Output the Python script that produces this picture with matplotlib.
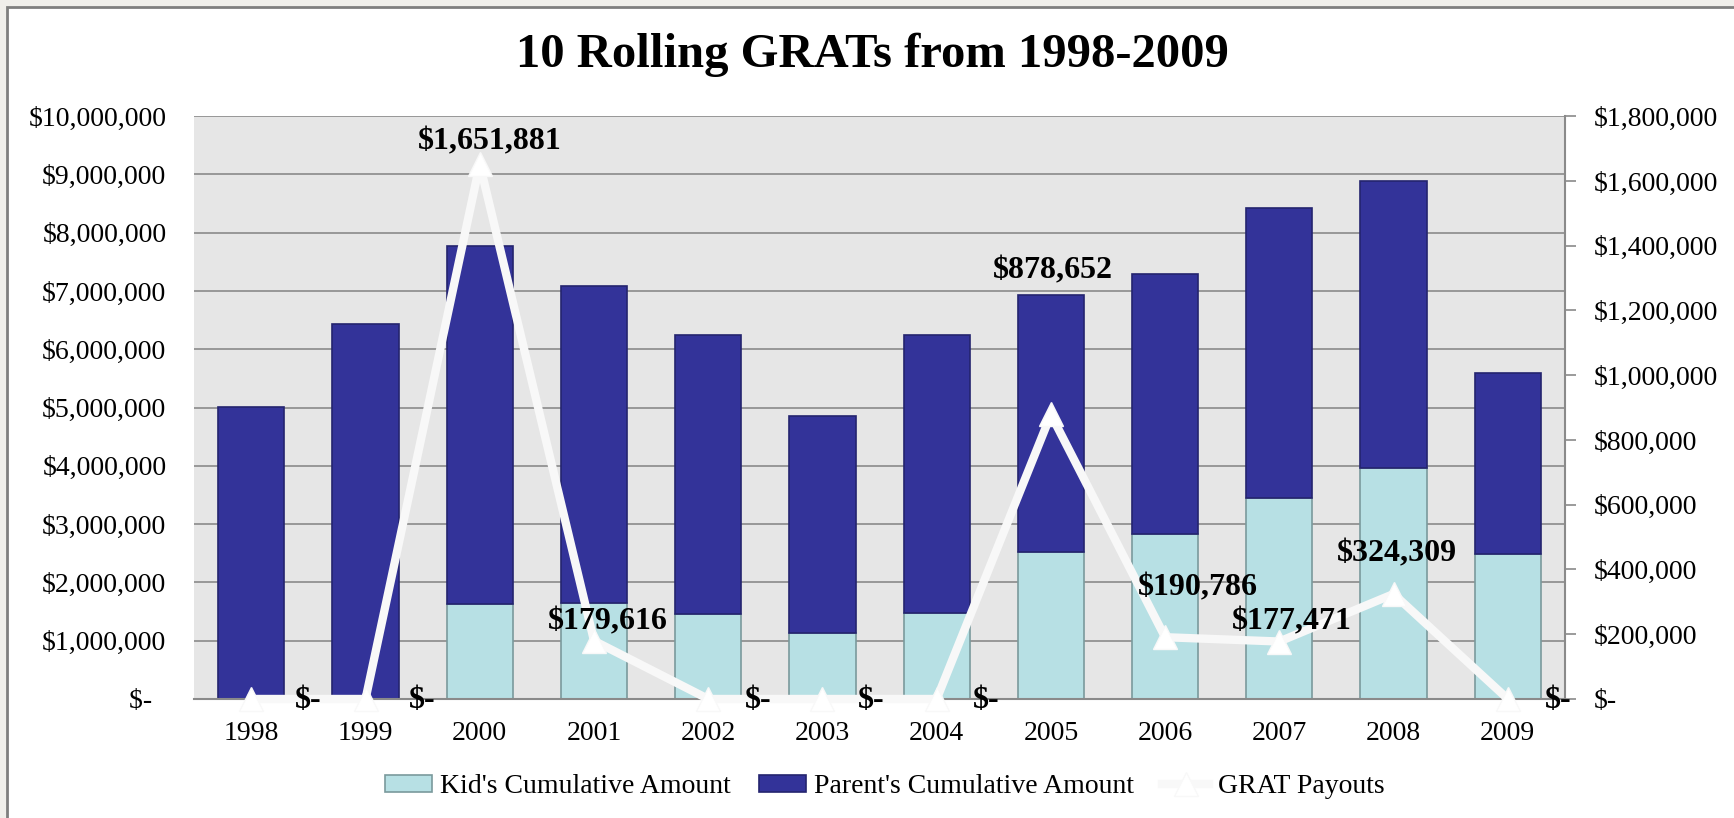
import numpy as np
import matplotlib
matplotlib.use("Agg")
import matplotlib.pyplot as plt
from matplotlib.patches import Rectangle
from matplotlib.ticker import FuncFormatter, MultipleLocator

plt.rcParams['font.family'] = ['Liberation Serif', 'DejaVu Serif']

# data
years = ['1998', '1999', '2000', '2001', '2002', '2003',
         '2004', '2005', '2006', '2007', '2008', '2009']
kid_amount = [0, 0, 1630000, 1650000, 1460000, 1140000,
              1480000, 2520000, 2830000, 3450000, 3970000, 2490000]
parent_total = [5010000, 6430000, 7780000, 7080000, 6240000, 4860000,
                6240000, 6930000, 7290000, 8430000, 8880000, 5600000]
grat_payouts = [0, 0, 1651881, 179616, 0, 0, 0, 878652, 190786, 177471, 324309, 0]
payout_labels = ['$-', '$-', '$1,651,881', '$179,616', '$-', '$-', '$-',
                 '$878,652', '$190,786', '$177,471', '$324,309', '$-']
# label offsets (pixels) relative to each payout point
label_offsets = [(57, -2), (57, -2), (10, 22), (14, 19), (50, -2), (49, -2),
                 (50, -2), (2, 144), (33, 49), (12, 20), (3, 40), (50, -2)]

kid_color = '#b7e0e4'
parent_color = '#333399'

def money(v, pos=None):
    if v == 0:
        return '$-\u2007'
    return '${:,.0f}'.format(v)

def money_r(v, pos=None):
    if v == 0:
        return '$-'
    return '${:,.0f}'.format(v)

fig = plt.figure(figsize=(17.34, 8.18), dpi=100)
fig.patch.set_facecolor('#f0efeb')
fig.patches.append(Rectangle((7 / 1734, -0.1), 1.2, 1 - 7 / 818 + 0.1,
                             transform=fig.transFigure, facecolor='white',
                             edgecolor='#7f7f7f', lw=2, zorder=-10))

ax = fig.add_axes([0.112, 0.1455, 0.7905, 0.7125])
ax.set_facecolor('#e6e6e6')
x = np.arange(len(years))
parent_part = np.array(parent_total) - np.array(kid_amount)

ax.bar(x, kid_amount, width=0.58, color=kid_color, edgecolor='#7a9a9c',
       lw=1.2, label="Kid's Cumulative Amount", zorder=2)
ax.bar(x, parent_part, bottom=kid_amount, width=0.58, color=parent_color,
       edgecolor='#24246e', lw=1.2, label="Parent's Cumulative Amount", zorder=2)

ax.set_xlim(-0.5, len(years) - 0.5)
ax.set_ylim(0, 10000000)
ax.yaxis.set_major_locator(MultipleLocator(1000000))
ax.yaxis.set_major_formatter(FuncFormatter(money))
ax.grid(axis='y', color='#8a8a8a', lw=1.2, zorder=0)
ax.set_axisbelow(True)
ax.set_xticks(x)
ax.set_xticklabels(years)
ax.tick_params(axis='y', length=0, pad=20, labelsize=20)
ax.tick_params(axis='x', length=0, pad=16, labelsize=20)
for s in ['top', 'left', 'right']:
    ax.spines[s].set_visible(False)
ax.spines['bottom'].set_color('#8a8a8a')
ax.spines['bottom'].set_linewidth(1.5)

ax2 = ax.twinx()
ax2.set_ylim(0, 1800000)
ax2.yaxis.set_major_locator(MultipleLocator(200000))
ax2.yaxis.set_major_formatter(FuncFormatter(money_r))
ax2.tick_params(axis='y', length=8, width=1.2, color='#8a8a8a', pad=13, labelsize=20)
for s in ['top', 'left', 'bottom']:
    ax2.spines[s].set_visible(False)
ax2.spines['right'].set_color('#8a8a8a')
ax2.spines['right'].set_linewidth(1.5)

ax2.plot(x, grat_payouts, color='#f8f8f8', lw=6, marker='^', markersize=17,
         markerfacecolor='white', markeredgecolor='#f8f8f8', label='GRAT Payouts',
         clip_on=False, zorder=3)
for xi, yi, lab, off in zip(x, grat_payouts, payout_labels, label_offsets):
    ax2.annotate(lab, (xi, yi), xytext=off, textcoords='offset pixels',
                 ha='center', va='center', fontsize=23, fontweight='bold',
                 annotation_clip=False, zorder=4)

fig.text(0.503, 0.933, '10 Rolling GRATs from 1998-2009', ha='center', va='center',
         fontsize=35, fontweight='bold')

h1, l1 = ax.get_legend_handles_labels()
h2, l2 = ax2.get_legend_handles_labels()
fig.legend(h1 + h2, l1 + l2, loc='center', bbox_to_anchor=(0.51, 0.038), ncol=3,
           frameon=False, fontsize=20, handlelength=1.7, handleheight=0.6,
           columnspacing=1.0, handletextpad=0.3)

fig.savefig('out.png', dpi=100, facecolor=fig.get_facecolor())
